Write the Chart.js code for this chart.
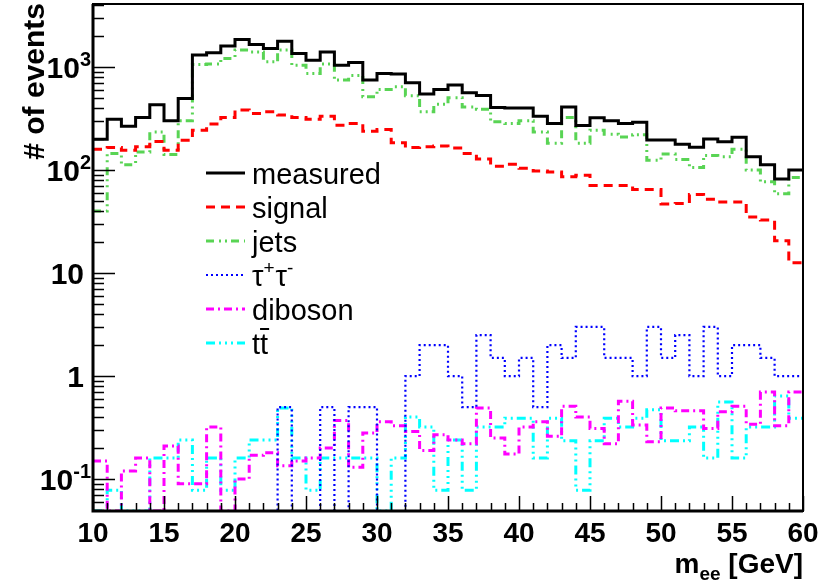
<!DOCTYPE html>
<html>
<head>
<meta charset="utf-8">
<script src="https://cdn.jsdelivr.net/npm/chart.js@4.4.1/dist/chart.umd.min.js"></script>
<style>
  html, body { margin: 0; padding: 0; background: #fff; }
</style>
</head>
<body>
<canvas id="mee" width="824" height="582"></canvas>
<script>
// bin edges in GeV (50 bins of 1 GeV)
const binEdges = [10, 11, 12, 13, 14, 15, 16, 17, 18, 19, 20, 21, 22, 23, 24, 25, 26, 27, 28, 29,
  30, 31, 32, 33, 34, 35, 36, 37, 38, 39, 40, 41, 42, 43, 44, 45, 46, 47, 48, 49,
  50, 51, 52, 53, 54, 55, 56, 57, 58, 59, 60]

const measured = [199, 311, 267, 325, 431, 301, 497, 1308, 1377, 1600,
  1858, 1660, 1518, 1787, 1358, 1169, 1399, 1045, 1110, 748,
  869, 855, 704, 547, 607, 669, 563, 531, 405, 400,
  400, 334, 284, 409, 271, 322, 301, 284, 292, 196,
  196, 178, 167, 200, 188, 209, 135, 113, 82, 100]
const signal = [159, 166, 156, 169, 190, 156, 195, 244, 280, 325,
  383, 354, 368, 342, 325, 311, 334, 273, 284, 239,
  248, 184, 166, 169, 171, 164, 145, 128, 109, 114,
  104, 98, 96, 86, 89, 71, 71, 71, 65, 65,
  47, 47.5, 58, 52, 49, 49, 35, 32.7, 20.6, 12.6]
const jets = [40, 145, 113, 150, 234, 142, 301, 1062, 1070, 1213,
  1462, 1400, 1125, 1462, 1045, 869, 1070, 748, 830, 515,
  607, 646, 527, 368, 437, 505, 410, 390, 294, 284,
  301, 234, 182, 325, 182, 244, 223, 210, 220, 125,
  143, 127, 106, 139, 135, 159, 100, 77, 59, 85]
const tautau = [0, 0, 0, 0, 0, 0, 0, 0, 0, 0,
  0, 0, 0, 0.5, 0, 0, 0.5, 0, 0.5, 0.5,
  0, 0, 1, 2, 2, 1, 0.5, 2.5, 1.5, 1,
  1.5, 0.5, 2, 1.5, 3, 3, 1.5, 1.5, 1, 3,
  1.5, 2.5, 1, 3, 1, 2, 2, 1.5, 1, 1]
const diboson = [0.15, 0, 0.12, 0.16, 0, 0.21, 0.09, 0.09, 0.32, 0,
  0.1, 0.17, 0.18, 0.135, 0.15, 0.16, 0.2, 0.37, 0.13, 0.28,
  0.36, 0.33, 0.29, 0.19, 0.27, 0.24, 0.22, 0.49, 0.25, 0.175,
  0.32, 0.36, 0.26, 0.51, 0.4, 0.31, 0.22, 0.57, 0.335, 0.23,
  0.49, 0.46, 0.46, 0.31, 0.45, 0.51, 0.34, 0.7, 0.33, 0.7]
const ttbar = [0, 0.078, 0, 0, 0.16, 0.16, 0.24, 0.078, 0.16, 0.078,
  0.16, 0.24, 0.24, 0.49, 0.16, 0.078, 0.16, 0.16, 0.16, 0.16,
  0, 0.16, 0.4, 0.32, 0.078, 0.24, 0.078, 0.32, 0.32, 0.39,
  0.39, 0.16, 0.39, 0.235, 0.078, 0.235, 0.39, 0.32, 0.39, 0.47,
  0.235, 0.235, 0.32, 0.16, 0.56, 0.16, 0.32, 0.32, 0.64, 0.39]

const xMajorTicks = [10, 15, 20, 25, 30, 35, 40, 45, 50, 55, 60]
const yDecades = [0.1, 1, 10, 100, 1000]
const yTickLabels = [['10', '-1'], ['1', ''], ['10', ''], ['10', '2'], ['10', '3']]

const yMin = 0.049
const yMax = 4100

// point i sits on the lower edge of bin i; one extra point closes the last bin
// empty bins sit on the bottom of the frame, like ROOT does
const toPoints = vals => {
  const pts = vals.map((v, i) => ({ x: binEdges[i], y: v > 0 ? v : yMin }))
  pts.push({ x: binEdges[vals.length], y: pts[pts.length - 1].y })
  return pts
}

const series = [
  { label: 'measured', data: measured, color: '#000000', width: 3, dash: [] },
  { label: 'signal', data: signal, color: '#ff0000', width: 3, dash: [9, 6] },
  { label: 'jets', data: jets, color: '#59d454', width: 3, dash: [8, 5, 2, 4, 2, 4] },
  { label: 'tautau', data: tautau, color: '#0000ff', width: 2.2, dash: [2, 3] },
  { label: 'diboson', data: diboson, color: '#ff00ff', width: 3, dash: [8, 4, 2, 4] },
  { label: 'ttbar', data: ttbar, color: '#00ffff', width: 3, dash: [9, 4, 2, 4, 2, 4, 2, 4] },
]

const FONT = '"Liberation Sans", Arial, Helvetica, sans-serif'

// ROOT-like frame, inside ticks, labels, titles and legend
const rootFrame = {
  id: 'rootFrame',
  afterDraw(chart) {
    const { ctx, chartArea: a } = chart
    const xs = chart.scales.x
    const ys = chart.scales.y
    ctx.save()

    // ticks
    ctx.strokeStyle = '#000'
    ctx.lineWidth = 1.5
    ctx.beginPath()
    binEdges.forEach(v => {
      const px = Math.round(xs.getPixelForValue(v)) + 0.5
      const len = xMajorTicks.includes(v) ? 15 : 8
      ctx.moveTo(px, a.bottom)
      ctx.lineTo(px, a.bottom - len)
    })
    for (let d = 0.01; d <= 1000; d *= 10) {
      for (let k = 1; k <= 9; k++) {
        const v = k * d
        if (v < yMin || v > yMax) continue
        const py = Math.round(ys.getPixelForValue(v)) + 0.5
        ctx.moveTo(a.left, py)
        ctx.lineTo(a.left + (k === 1 ? 22 : 11), py)
      }
    }
    ctx.stroke()

    // frame
    ctx.lineWidth = 2
    ctx.strokeRect(a.left, a.top, a.right - a.left, a.bottom - a.top)
    ctx.lineWidth = 3
    ctx.beginPath()
    ctx.moveTo(a.left, a.top)
    ctx.lineTo(a.left, a.bottom)
    ctx.lineTo(a.right, a.bottom)
    ctx.stroke()

    ctx.fillStyle = '#000'
    // x tick labels
    ctx.font = 'bold 28px ' + FONT
    ctx.textAlign = 'center'
    ctx.textBaseline = 'alphabetic'
    xMajorTicks.forEach(v => ctx.fillText(String(v), xs.getPixelForValue(v), 542))

    // y tick labels with exponents
    ctx.textAlign = 'left'
    yDecades.forEach((v, i) => {
      const [base, exp] = yTickLabels[i]
      const py = ys.getPixelForValue(v)
      ctx.font = 'bold 20px ' + FONT
      const ew = exp ? ctx.measureText(exp).width : 0
      ctx.font = 'bold 30px ' + FONT
      const bw = ctx.measureText(base).width
      const right = exp ? 91 : 84
      ctx.fillText(base, right - ew - bw, py + 11)
      if (exp) {
        ctx.font = 'bold 20px ' + FONT
        ctx.fillText(exp, right - ew, py - 1)
      }
    })

    // x title: m_ee [GeV]
    ctx.font = 'bold 28px ' + FONT
    const wm = ctx.measureText('m').width
    const wg = ctx.measureText(' [GeV]').width
    ctx.font = 'bold 19px ' + FONT
    const we = ctx.measureText('ee').width
    const tx = a.right - wm - we - wg
    ctx.font = 'bold 28px ' + FONT
    ctx.fillText('m', tx, 573)
    ctx.font = 'bold 19px ' + FONT
    ctx.fillText('ee', tx + wm, 580)
    ctx.font = 'bold 28px ' + FONT
    ctx.fillText(' [GeV]', tx + wm + we, 573)

    // y title
    ctx.save()
    ctx.translate(44, 3)
    ctx.rotate(-Math.PI / 2)
    ctx.textAlign = 'right'
    ctx.font = 'bold 30px ' + FONT
    ctx.fillText('# of events', 0, 0)
    ctx.restore()

    // legend
    const rowY = [173, 207, 241, 275, 309, 343]
    series.forEach((s, i) => {
      const y = rowY[i]
      ctx.strokeStyle = s.color
      ctx.lineWidth = s.width
      ctx.setLineDash(s.dash)
      ctx.beginPath()
      ctx.moveTo(206, y)
      ctx.lineTo(245, y)
      ctx.stroke()
      ctx.setLineDash([])
      ctx.fillStyle = '#000'
      ctx.textAlign = 'left'
      const base = y + 11
      if (s.label === 'tautau') {
        let x0 = 252
        const parts = [['\u03c4', false], ['+', true], ['\u03c4', false], ['-', true]]
        parts.forEach(([t, sup]) => {
          ctx.font = (sup ? '19px ' : '29px ') + FONT
          ctx.fillText(t, x0, sup ? base - 12 : base)
          x0 += ctx.measureText(t).width + (sup ? 1 : 0)
        })
      } else if (s.label === 'ttbar') {
        ctx.font = '29px ' + FONT
        const wt = ctx.measureText('t').width
        ctx.fillText('t', 252, base)
        ctx.fillText('t', 252 + wt, base)
        ctx.lineWidth = 2
        ctx.strokeStyle = '#000'
        ctx.beginPath()
        ctx.moveTo(252 + wt, base - 25)
        ctx.lineTo(252 + 2 * wt + 1, base - 25)
        ctx.stroke()
      } else {
        ctx.font = '29px ' + FONT
        ctx.fillText(s.label, 252, base)
      }
    })
    ctx.restore()
  },
}

const ctxMee = document.getElementById('mee').getContext('2d')

const configMee = {
  type: 'line',
  data: {
    datasets: series.map(s => ({
      label: s.label,
      data: toPoints(s.data),
      borderColor: s.color,
      borderWidth: s.width,
      borderDash: s.dash,
      stepped: 'before',
      fill: false,
      pointRadius: 0,
    })),
  },
  options: {
    responsive: false,
    animation: false,
    layout: { padding: { left: 93, right: 21, top: 4, bottom: 71 } },
    plugins: {
      legend: { display: false },
      tooltip: { enabled: false },
    },
    scales: {
      x: { type: 'linear', min: 10, max: 60, bounds: 'data', display: false },
      y: { type: 'logarithmic', min: yMin, max: yMax, bounds: 'data', display: false },
    },
  },
  plugins: [rootFrame],
}

const meeChart = new Chart(ctxMee, configMee)
</script>
</body>
</html>
